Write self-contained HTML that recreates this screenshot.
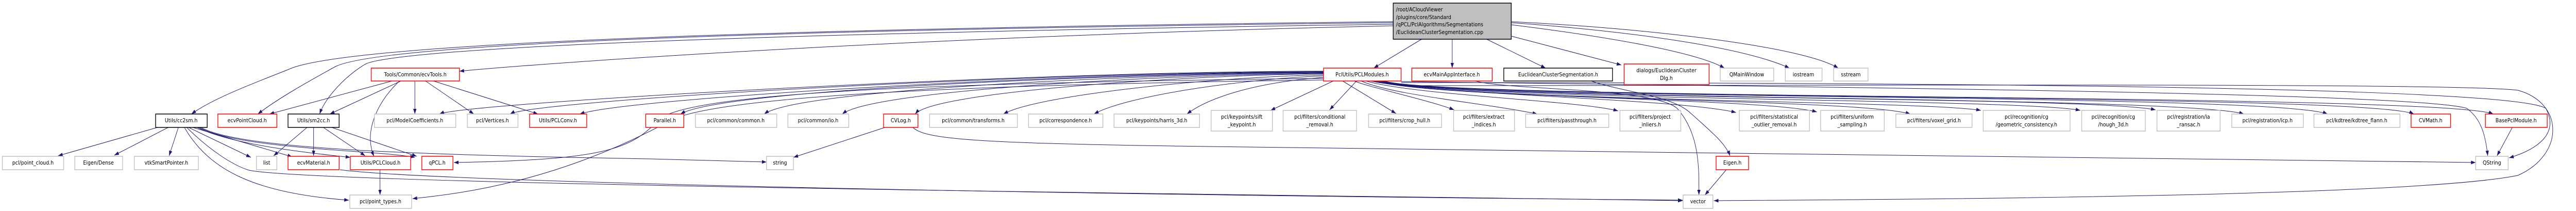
<!DOCTYPE html>
<html><head><meta charset="utf-8"><style>
html,body{margin:0;padding:0;background:#fff;overflow:hidden;}
svg{display:block;width:100vw;height:100vh;}
text{font-family:"DejaVu Sans","Liberation Sans",sans-serif;font-size:10.5px;fill:#000;}
.g{fill:#fff;stroke:#bfbfbf;stroke-width:1.5}
.r{fill:#fff;stroke:#ff0000;stroke-width:1.5}
.k{fill:#fff;stroke:#000;stroke-width:1.5}
.e{fill:none;stroke:#191970;stroke-width:1;marker-end:url(#a)}
</style></head><body>
<svg viewBox="0 0 5545 409" preserveAspectRatio="none" xmlns="http://www.w3.org/2000/svg">
<defs><marker id="a" markerUnits="userSpaceOnUse" markerWidth="10" markerHeight="8" refX="10" refY="3.5" orient="auto"><path d="M0,0 L10,3.5 L0,7 z" fill="#191970"/></marker></defs>
<g>
<path class="e" d="M3060,76 L2957,132"/>
<path class="e" d="M3126,76 L3126,132"/>
<path class="e" d="M3200,76 L3327,132"/>
<path class="e" d="M3253,70 L3490,126"/>
<path class="e" d="M3253,48 C3450,70 3650,100 3712,132"/>
<path class="e" d="M3253,44 C3500,60 3750,90 3852,132"/>
<path class="e" d="M3253,42 C3550,55 3880,90 3957,132"/>
<path class="e" d="M2999,42 C1200,60 700,100 620,135 C550,160 460,190 412,221"/>
<path class="e" d="M2999,44 C1200,62 780,100 720,130 C660,160 600,190 555,221"/>
<path class="e" d="M2999,47 C1200,70 820,105 785,125 C740,150 700,190 688,221"/>
<path class="e" d="M2999,50 C2000,70 1200,120 989,138"/>
<path class="e" d="M2849,140 C2500,142 1560,170 1465,221"/>
<path class="e" d="M2849,141 C2500,143 1720,172 1645,221"/>
<path class="e" d="M2849,142 C2500,145 1880,175 1813,221"/>
<path class="e" d="M2849,143 C2550,146 2010,178 1970,221"/>
<path class="e" d="M2849,145 C2600,150 2230,185 2160,221"/>
<path class="e" d="M2849,147 C2650,155 2420,188 2355,221"/>
<path class="e" d="M2849,150 C2700,160 2600,190 2555,221"/>
<path class="e" d="M2870,157 L2735,214"/>
<path class="e" d="M2920,157 L2862,213"/>
<path class="e" d="M2849,140 C2300,140 1350,190 1248,221"/>
<path class="e" d="M2849,139 C2200,140 1150,195 1098,221"/>
<path class="e" d="M2849,138 C2200,138 1000,200 946,221"/>
<path class="e" d="M2849,152 C2000,160 1500,180 1420,230 C1360,290 1300,310 977,315"/>
<path class="e" d="M2849,155 C2000,165 1500,190 1430,240 C1200,350 1000,375 888,385"/>
<path class="e" d="M3016,166 C4000,166 5300,160 5420,175 C5520,200 5520,300 5420,340 C5200,380 4200,386 3689,389"/>
<path class="e" d="M3016,160 C4000,160 5400,165 5480,210 C5510,260 5460,290 5401,306"/>
<path class="e" d="M3016,158 C4000,170 5200,180 5310,210 C5340,230 5350,260 5355,302"/>
<path class="e" d="M2890,157 L3005,220"/>
<path class="e" d="M2915,157 C2950,170 3080,195 3130,213"/>
<path class="e" d="M2930,157 C3000,185 3200,200 3309,221"/>
<path class="e" d="M2940,157 C3050,185 3400,195 3483,215"/>
<path class="e" d="M2950,157 C3100,185 3600,190 3737,218"/>
<path class="e" d="M2955,157 C3100,190 3800,190 3911,217"/>
<path class="e" d="M2960,157 C3100,195 4000,190 4112,221"/>
<path class="e" d="M2965,157 C3100,195 4150,195 4264,214"/>
<path class="e" d="M2968,157 C3100,195 4350,190 4478,214"/>
<path class="e" d="M2970,157 C3100,195 4500,185 4640,213"/>
<path class="e" d="M2972,157 C3100,195 4700,185 4830,221"/>
<path class="e" d="M2975,157 C3100,195 4900,180 5010,221"/>
<path class="e" d="M2978,157 C3100,195 5100,180 5196,221"/>
<path class="e" d="M2980,157 C3100,195 5250,180 5367,221"/>
<path class="e" d="M3425,157 C3500,180 3600,185 3640,220 C3690,260 3715,280 3724,302"/>
<path class="e" d="M3716,329 L3670,378"/>
<path class="e" d="M3175,157 C3250,175 3560,170 3610,210 C3660,260 3657,330 3657,378"/>
<path class="e" d="M5408,247 L5375,302"/>
<path class="e" d="M844,157 L580,221"/>
<path class="e" d="M863,157 L710,221"/>
<path class="e" d="M860,157 C820,190 780,250 805,303"/>
<path class="e" d="M893,157 L893,221"/>
<path class="e" d="M916,157 L1020,221"/>
<path class="e" d="M933,157 L1158,221"/>
<path class="e" d="M339,247 L125,302"/>
<path class="e" d="M362,247 L246,301"/>
<path class="e" d="M384,247 L364,302"/>
<path class="e" d="M406,247 L540,305"/>
<path class="e" d="M415,247 L629,304"/>
<path class="e" d="M424,247 C500,280 650,295 754,305"/>
<path class="e" d="M428,247 C520,290 800,290 893,305"/>
<path class="e" d="M432,247 C520,290 900,300 1400,308 C1500,310 1600,313 1650,314"/>
<path class="e" d="M402,247 C450,290 500,320 536,330 C700,360 3000,380 3622,389"/>
<path class="e" d="M397,247 C450,330 550,375 751,388"/>
<path class="e" d="M661,247 L589,302"/>
<path class="e" d="M675,247 L675,302"/>
<path class="e" d="M696,247 L786,302"/>
<path class="e" d="M714,247 L897,303"/>
<path class="e" d="M818,329 L818,378"/>
<path class="e" d="M732,329 C900,350 2000,375 3622,388"/>
<path class="e" d="M1905,247 L1708,305"/>
<path class="e" d="M1965,247 C1990,270 2100,278 2600,284 C3500,295 4500,305 5329,315"/>
</g>
<g>
<rect x="2999" y="6" width="254" height="70" fill="#bfbfbf" stroke="#000" stroke-width="1.5"/>
<text x="3005" y="22">/root/ACloudViewer</text>
<text x="3005" y="37">/plugins/core/Standard</text>
<text x="3005" y="51">/qPCL/PclAlgorithms/Segmentations</text>
<text x="3005" y="66">/EuclideanClusterSegmentation.cpp</text>
</g>
<g text-anchor="middle">
<rect class="r" x="799" y="132" width="190" height="25"/><text x="894" y="148">Tools/Common/ecvTools.h</text>
<rect class="r" x="2849" y="132" width="167" height="25"/><text x="2932" y="148">PclUtils/PCLModules.h</text>
<rect class="r" x="3039" y="132" width="173" height="25"/><text x="3125" y="148">ecvMainAppInterface.h</text>
<rect class="k" x="3237" y="132" width="234" height="25"/><text x="3354" y="148">EuclideanClusterSegmentation.h</text>
<rect class="r" x="3496" y="124" width="183" height="40"/><text x="3587" y="140">dialogs/EuclideanCluster</text><text x="3587" y="155">Dlg.h</text>
<rect class="g" x="3703" y="132" width="115" height="25"/><text x="3760" y="148">QMainWindow</text>
<rect class="g" x="3843" y="132" width="79" height="25"/><text x="3882" y="148">iostream</text>
<rect class="g" x="3947" y="132" width="74" height="25"/><text x="3984" y="148">sstream</text>
<rect class="k" x="335" y="221" width="111" height="26"/><text x="390" y="237">Utils/cc2sm.h</text>
<rect class="r" x="469" y="221" width="127" height="26"/><text x="532" y="237">ecvPointCloud.h</text>
<rect class="k" x="620" y="221" width="110" height="26"/><text x="675" y="237">Utils/sm2cc.h</text>
<rect class="g" x="806" y="221" width="175" height="26"/><text x="893" y="237">pcl/ModelCoefficients.h</text>
<rect class="g" x="1006" y="221" width="109" height="26"/><text x="1060" y="237">pcl/Vertices.h</text>
<rect class="r" x="1140" y="221" width="123" height="26"/><text x="1201" y="237">Utils/PCLConv.h</text>
<rect class="r" x="1390" y="221" width="82" height="26"/><text x="1431" y="237">Parallel.h</text>
<rect class="g" x="1497" y="221" width="175" height="26"/><text x="1584" y="237">pcl/common/common.h</text>
<rect class="g" x="1696" y="221" width="131" height="26"/><text x="1761" y="237">pcl/common/io.h</text>
<rect class="r" x="1902" y="221" width="74" height="26"/><text x="1939" y="237">CVLog.h</text>
<rect class="g" x="2001" y="221" width="189" height="26"/><text x="2095" y="237">pcl/common/transforms.h</text>
<rect class="g" x="2214" y="221" width="160" height="26"/><text x="2294" y="237">pcl/correspondence.h</text>
<rect class="g" x="2398" y="221" width="184" height="26"/><text x="2490" y="237">pcl/keypoints/harris_3d.h</text>
<rect class="g" x="2607" y="214" width="132" height="40"/><text x="2673" y="230">pcl/keypoints/sift</text><text x="2673" y="245">_keypoint.h</text>
<rect class="g" x="2762" y="214" width="158" height="40"/><text x="2841" y="230">pcl/filters/conditional</text><text x="2841" y="245">_removal.h</text>
<rect class="g" x="2946" y="221" width="157" height="26"/><text x="3024" y="237">pcl/filters/crop_hull.h</text>
<rect class="g" x="3129" y="214" width="131" height="40"/><text x="3194" y="230">pcl/filters/extract</text><text x="3194" y="245">_indices.h</text>
<rect class="g" x="3284" y="221" width="179" height="26"/><text x="3373" y="237">pcl/filters/passthrough.h</text>
<rect class="g" x="3487" y="214" width="131" height="40"/><text x="3552" y="230">pcl/filters/project</text><text x="3552" y="245">_inliers.h</text>
<rect class="g" x="3744" y="214" width="151" height="40"/><text x="3819" y="230">pcl/filters/statistical</text><text x="3819" y="245">_outlier_removal.h</text>
<rect class="g" x="3919" y="214" width="137" height="40"/><text x="3987" y="230">pcl/filters/uniform</text><text x="3987" y="245">_sampling.h</text>
<rect class="g" x="4081" y="221" width="164" height="26"/><text x="4163" y="237">pcl/filters/voxel_grid.h</text>
<rect class="g" x="4269" y="214" width="187" height="40"/><text x="4362" y="230">pcl/recognition/cg</text><text x="4362" y="245">/geometric_consistency.h</text>
<rect class="g" x="4481" y="214" width="137" height="40"/><text x="4549" y="230">pcl/recognition/cg</text><text x="4549" y="245">/hough_3d.h</text>
<rect class="g" x="4643" y="214" width="136" height="40"/><text x="4711" y="230">pcl/registration/ia</text><text x="4711" y="245">_ransac.h</text>
<rect class="g" x="4804" y="221" width="154" height="26"/><text x="4881" y="237">pcl/registration/icp.h</text>
<rect class="g" x="4981" y="221" width="185" height="26"/><text x="5073" y="237">pcl/kdtree/kdtree_flann.h</text>
<rect class="r" x="5190" y="221" width="85" height="26"/><text x="5232" y="237">CVMath.h</text>
<rect class="r" x="5350" y="221" width="133" height="26"/><text x="5416" y="237">BasePclModule.h</text>
<rect class="g" x="5" y="303" width="132" height="26"/><text x="71" y="319">pcl/point_cloud.h</text>
<rect class="g" x="161" y="303" width="103" height="26"/><text x="212" y="319">Eigen/Dense</text>
<rect class="g" x="289" y="303" width="138" height="26"/><text x="358" y="319">vtkSmartPointer.h</text>
<rect class="g" x="552" y="303" width="44" height="26"/><text x="574" y="319">list</text>
<rect class="r" x="620" y="303" width="110" height="26"/><text x="675" y="319">ecvMaterial.h</text>
<rect class="r" x="754" y="303" width="130" height="26"/><text x="819" y="319">Utils/PCLCloud.h</text>
<rect class="r" x="908" y="303" width="67" height="26"/><text x="941" y="319">qPCL.h</text>
<rect class="g" x="1650" y="303" width="58" height="26"/><text x="1679" y="319">string</text>
<rect class="r" x="3694" y="303" width="70" height="26"/><text x="3729" y="319">Eigen.h</text>
<rect class="g" x="5329" y="303" width="70" height="26"/><text x="5364" y="319">QString</text>
<rect class="g" x="753" y="378" width="133" height="26"/><text x="819" y="394">pcl/point_types.h</text>
<rect class="g" x="3623" y="378" width="64" height="26"/><text x="3655" y="394">vector</text>
</g>
</svg>
</body></html>
